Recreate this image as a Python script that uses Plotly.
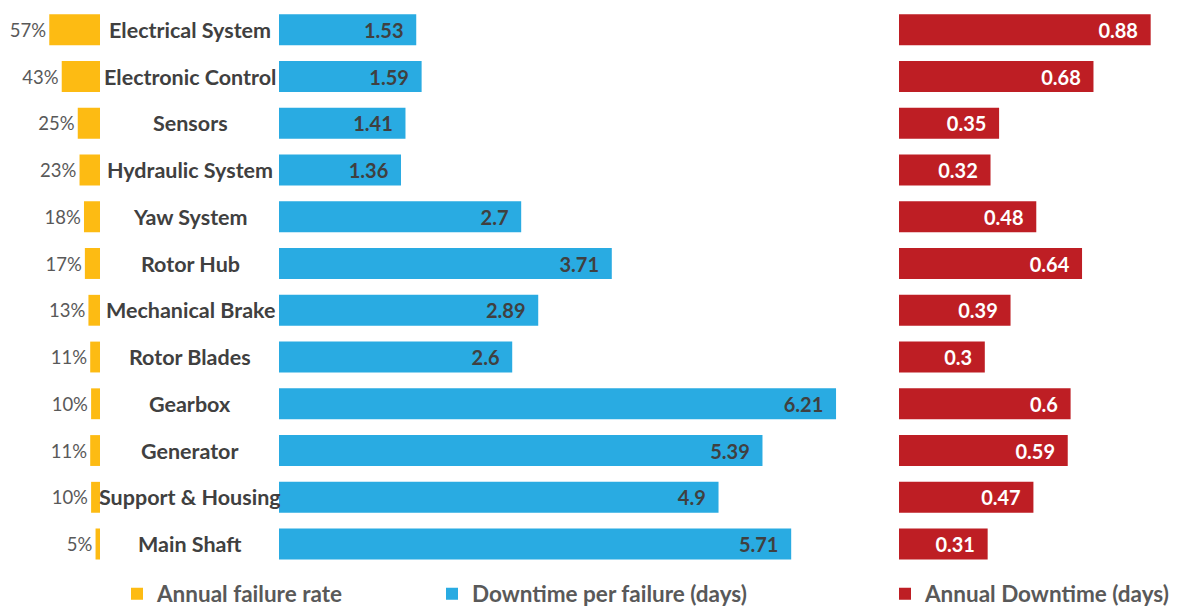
import plotly.graph_objects as go

categories = ["Electrical System", "Electronic Control", "Sensors", "Hydraulic System",
              "Yaw System", "Rotor Hub", "Mechanical Brake", "Rotor Blades", "Gearbox",
              "Generator", "Support & Housing", "Main Shaft"]
failure_rate = [57, 43, 25, 23, 18, 17, 13, 11, 10, 11, 10, 5]
downtime_per_failure = [1.53, 1.59, 1.41, 1.36, 2.7, 3.71, 2.89, 2.6, 6.21, 5.39, 4.9, 5.71]
annual_downtime = [0.88, 0.68, 0.35, 0.32, 0.48, 0.64, 0.39, 0.3, 0.6, 0.59, 0.47, 0.31]

W, H = 1196, 610
YELLOW = "#FDBB13"
BLUE = "#29ABE2"
RED = "#BE1E24"
DARK = "#404040"
GRAY = "#595959"
FONT = "Lato"
PAD = "\u00a0\u00a0"

fig = go.Figure()

fig.add_trace(go.Bar(
    y=categories, x=failure_rate, orientation="h", xaxis="x", yaxis="y",
    marker=dict(color=YELLOW, line=dict(width=0)), width=0.66,
    text=[f"{v}%" for v in failure_rate], textposition="outside", cliponaxis=False,
    textfont=dict(family=FONT, size=18.5, color=GRAY),
    name="Annual failure rate", legend="legend", hoverinfo="skip"))

fig.add_trace(go.Bar(
    y=categories, x=downtime_per_failure, orientation="h", xaxis="x2", yaxis="y",
    marker=dict(color=BLUE, line=dict(width=0)), width=0.66,
    text=[f"{v}{PAD}" for v in downtime_per_failure], textposition="inside",
    insidetextanchor="end", textangle=0,
    textfont=dict(family=FONT, size=20, color=DARK, weight="bold"),
    name="Downtime per failure (days)", legend="legend2", hoverinfo="skip"))

fig.add_trace(go.Bar(
    y=categories, x=annual_downtime, orientation="h", xaxis="x3", yaxis="y",
    marker=dict(color=RED, line=dict(width=0)), width=0.66,
    text=[f"{v}{PAD}" for v in annual_downtime], textposition="inside",
    insidetextanchor="end", textangle=0,
    textfont=dict(family=FONT, size=20, color="white", weight="bold"),
    name="Annual Downtime (days)", legend="legend3", hoverinfo="skip"))

for c in categories:
    fig.add_annotation(x=190 / W, xref="paper", y=c, yref="y", text=c, showarrow=False,
                       xanchor="center", yanchor="middle",
                       font=dict(family=FONT, size=21.5, color=DARK, weight="bold"))

axis_common = dict(showgrid=False, zeroline=False, showticklabels=False, showline=False, fixedrange=True)
leg_font = dict(family=FONT, size=22.5, color=GRAY, weight="bold")
LY = (H - 594) / H
fig.update_layout(
    width=W, height=H, margin=dict(l=0, r=0, t=0, b=0, autoexpand=False),
    plot_bgcolor="white", paper_bgcolor="white",
    barmode="overlay", uniformtext=dict(mode=False),
    xaxis=dict(domain=[0, 100 / W], range=[100 / 0.89, 0], **axis_common),
    xaxis2=dict(domain=[279 / W, 870 / W], range=[0, 591 / 89.7], anchor="y", **axis_common),
    xaxis3=dict(domain=[899 / W, 1.0], range=[0, 297 / 286], anchor="y", **axis_common),
    yaxis=dict(domain=[(H - 567.4) / H, (H - 6.4) / H], categoryorder="array",
               categoryarray=categories[::-1], range=[-0.5, 11.5], **axis_common),
    showlegend=True,
    legend=dict(x=117 / W, y=LY, xanchor="left", yanchor="middle", font=leg_font,
                bgcolor="rgba(0,0,0,0)"),
    legend2=dict(x=432 / W, y=LY, xanchor="left", yanchor="middle", font=leg_font,
                 bgcolor="rgba(0,0,0,0)"),
    legend3=dict(x=885 / W, y=LY, xanchor="left", yanchor="middle", font=leg_font,
                 bgcolor="rgba(0,0,0,0)"),
)

fig.write_html("out.html")
